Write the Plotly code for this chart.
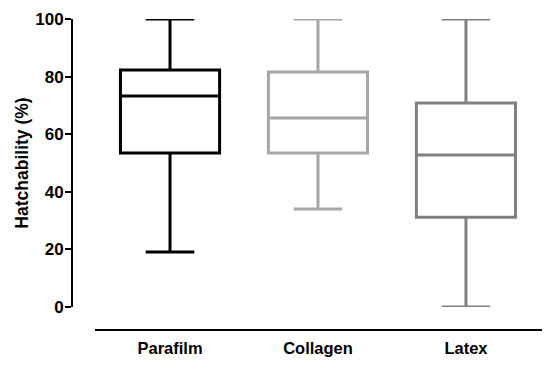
import plotly.graph_objects as go

categories = ["Parafilm", "Collagen", "Latex"]
q1 = [53.5, 53.5, 31.2]
median = [73.3, 65.6, 52.8]
q3 = [82.3, 81.6, 70.8]
lower = [19.1, 34.0, 0.0]
upper = [100.0, 100.0, 100.0]
colors = ["#000000", "#a6a6a6", "#808080"]

fig = go.Figure()
for i, c in enumerate(categories):
    fig.add_trace(go.Box(
        x=[c], q1=[q1[i]], median=[median[i]], q3=[q3[i]],
        lowerfence=[lower[i]], upperfence=[upper[i]],
        line=dict(color=colors[i], width=3),
        fillcolor="rgba(255,255,255,0)",
        width=0.67, whiskerwidth=0.49,
        boxpoints=False, showlegend=False, hoverinfo="skip",
    ))

W, H = 550, 365
l, r, t, b = 72, 8, 19, 35
pw = W - l - r
ph = H - t - b
ff = "Liberation Sans, Arial, sans-serif"

fig.update_layout(
    width=W, height=H,
    margin=dict(l=l, r=r, t=t, b=b, autoexpand=False),
    paper_bgcolor="white", plot_bgcolor="white",
    font=dict(family=ff, size=16, color="#000"),
    xaxis=dict(
        domain=[(95 - l) / pw, 1.0],
        anchor="free", position=0, automargin=False,
        type="category", categoryorder="array", categoryarray=categories,
        range=[-0.507, 2.514],
        showline=True, linecolor="#000", linewidth=2,
        ticks="", showgrid=False, zeroline=False,
        tickfont=dict(size=16.5, family=ff, weight="bold"),
        ticklabelstandoff=3,
    ),
    yaxis=dict(
        domain=[(330 - 307) / ph, 1.0],
        anchor="free", position=0, automargin=False,
        range=[0, 100], tickvals=[0, 20, 40, 60, 80, 100],
        showline=True, linecolor="#000", linewidth=2,
        ticks="outside", ticklen=6, tickwidth=2, tickcolor="#000",
        showgrid=False, zeroline=False,
        tickfont=dict(size=17, family=ff, weight="bold"),
        ticklabelstandoff=-2,
        title=dict(text="Hatchability (%)", standoff=1,
                   font=dict(size=17.5, family=ff, weight="bold")),
    ),
)

fig.write_html("out.html", post_script="document.body.style.margin='0';",
               config={"displayModeBar": False})
